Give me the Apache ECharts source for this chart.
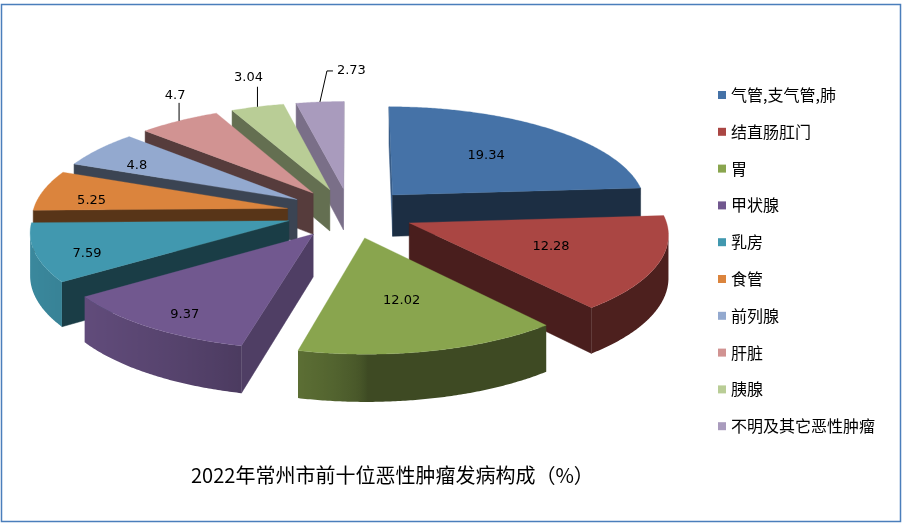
<!DOCTYPE html>
<html>
<head>
<meta charset="utf-8">
<script src="https://cdn.jsdelivr.net/npm/echarts@6/dist/echarts.min.js"></script>
<style>
html,body{margin:0;padding:0;background:#fff;}
#chart{width:903px;height:527px;}
</style>
</head>
<body>
<div id="chart"></div>
<script>
// ---- data ----
const categories = ['气管,支气管,肺','结直肠肛门','胃','甲状腺','乳房','食管','前列腺','肝脏','胰腺','不明及其它恶性肿瘤'];
const values = [19.34, 12.28, 12.02, 9.37, 7.59, 5.25, 4.8, 4.7, 3.04, 2.73];
const colors = ['#4572A7','#AA4643','#89A54E','#71588F','#4198AF','#DB843D','#93A9CF','#D19392','#B9CD96','#A99BBD'];
const titleText = '2022年常州市前十位恶性肿瘤发病构成（%）';
const outsideLabels = ['肝脏','胰腺','不明及其它恶性肿瘤'];

// ---- layout (3D exploded pie projection) ----
const L = {cx:350, cy:213, rx:255, ry:100, h:42, p:0.096, explode:0.25};
const leader = {
  '肝脏': {line:[[0,-18]], text:[-4,-25], align:'center'},
  '胰腺': {line:[[0,-20]], text:[-9,-29], align:'center'},
  '不明及其它恶性肿瘤': {line:[[7,-31],[13,-31]], text:[17,-31], align:'left'}
};

const total = values.reduce((a,b)=>a+b,0);
const starts = [];
(function(){ let acc=0; values.forEach(v=>{starts.push(acc/total*360); acc+=v;}); })();
const D = 1/L.p;
const rad = d => d*Math.PI/180;
function proj(P, hf){
  const s = 1/(1 - L.p*P[1]);
  return [L.cx + L.rx*P[0]*s, L.cy + (L.ry*P[1] + hf*L.h)*s];
}
function shade(hex, f){
  const n = parseInt(hex.slice(1),16);
  const r = Math.round(((n>>16)&255)*f), g = Math.round(((n>>8)&255)*f), b = Math.round((n&255)*f);
  return 'rgb('+r+','+g+','+b+')';
}
function apexOf(i){
  const mid = starts[i] + values[i]/total*180;
  return [L.explode*Math.sin(rad(mid)), -L.explode*Math.cos(rad(mid))];
}
// draw order for walls: back slices first
const order = values.map((v,i)=>i).sort((a,b)=>apexOf(a)[1]-apexOf(b)[1]);
const wallZ = {}; order.forEach((idx,r)=>{ wallZ[idx] = 10 + r; });

function renderSlice(params, api){
  const i = params.seriesIndex;
  const val = api.value(0);
  const a0 = starts[i], a1 = a0 + val/total*360, mid = (a0+a1)/2;
  const color = colors[i];
  const A = apexOf(i);
  const rim = t => [A[0] + Math.sin(rad(t)), A[1] - Math.cos(rad(t))];
  const children = [];
  // radial faces
  const faces = [
    {t:a0, n:[-Math.cos(rad(a0)), -Math.sin(rad(a0))]},
    {t:a1, n:[ Math.cos(rad(a1)),  Math.sin(rad(a1))]}
  ];
  faces.forEach(fc=>{
    const dot = fc.n[0]*(0 - A[0]) + fc.n[1]*(D - A[1]);
    if (dot > 0){
      const R = rim(fc.t);
      const f = 0.4 + 0.4*Math.pow(Math.abs(fc.n[0]), 10);
      children.push({type:'polygon', z2: wallZ[i],
        shape:{points:[proj(A,0), proj(R,0), proj(R,1), proj(A,1)]},
        style:{fill: shade(color, f), stroke: shade(color, f), lineWidth:0.5}});
    }
  });
  // outer curved wall
  const ts = [];
  const steps = Math.max(2, Math.ceil((a1-a0)/0.5));
  for (let k=0;k<=steps;k++) ts.push(a0 + (a1-a0)*k/steps);
  const vis = ts.map(t=>{
    const n = [Math.sin(rad(t)), -Math.cos(rad(t))];
    const P = rim(t);
    return n[0]*(0-P[0]) + n[1]*(D-P[1]) > 0;
  });
  let runs = [], cur = [];
  ts.forEach((t,k)=>{ if (vis[k]) cur.push(t); else { if (cur.length>1) runs.push(cur); cur=[]; } });
  if (cur.length>1) runs.push(cur);
  runs.forEach(run=>{
    const top = run.map(t=>proj(rim(t),0));
    const bot = run.map(t=>proj(rim(t),1)).reverse();
    const xs = top.map(p=>p[0]);
    const xmin = Math.min.apply(null,xs), xmax = Math.max.apply(null,xs);
    const fOf = t => 0.45 + 0.45*Math.sqrt(Math.max(0, -Math.sin(rad(t))));
    let fill;
    if (xmax - xmin < 1) fill = shade(color, fOf(run[0]));
    else {
      const stops = run.map((t,k)=>({offset:(top[k][0]-xmin)/(xmax-xmin), color:shade(color,fOf(t))}))
        .sort((a,b)=>a.offset-b.offset);
      fill = new echarts.graphic.LinearGradient(xmin, 0, xmax, 0, stops, true);
    }
    children.push({type:'polygon', z2: wallZ[i], shape:{points: top.concat(bot)}, style:{fill: fill}});
  });
  // top face
  const topPts = [proj(A,0)].concat(ts.map(t=>proj(rim(t),0)));
  children.push({type:'polygon', z2:100, shape:{points:topPts}, style:{fill:color, stroke:color, lineWidth:0.3}});
  // label
  const name = categories[i];
  if (outsideLabels.indexOf(name) >= 0){
    const P = proj(rim(mid),0);
    const ld = leader[name];
    const pts = [P].concat(ld.line.map(o=>[P[0]+o[0], P[1]+o[1]]));
    children.push({type:'polyline', z2:200, shape:{points:pts}, style:{stroke:'#000', lineWidth:1, fill:null}});
    children.push({type:'text', z2:200, x:P[0]+ld.text[0], y:P[1]+ld.text[1],
      style:{text:String(val), fill:'#000', font:'13px "DejaVu Sans"', align:ld.align, verticalAlign:'middle'}});
  } else {
    const big = (a1 - a0) >= 50;
    const lr = big ? 0.58 : 0.8;
    const Q = [A[0] + lr*Math.sin(rad(mid)), A[1] - lr*Math.cos(rad(mid))];
    const P = proj(Q, big ? 0 : 0.16);
    children.push({type:'text', z2:200, x:P[0], y:P[1],
      style:{text:String(val), fill:'#000', font:'13px "DejaVu Sans"', align:'center', verticalAlign:'middle'}});
  }
  return {type:'group', children};
}

const chart = echarts.init(document.getElementById('chart'), null, {renderer:'canvas'});
chart.setOption({
  animation:false,
  backgroundColor:'#fff',
  color: colors,
  title:{
    text: titleText, left: 186, top: 460,
    textStyle:{fontSize:20, fontWeight:'normal', color:'#000', fontFamily:'"Noto Sans CJK SC", sans-serif'}
  },
  legend:{
    orient:'vertical', left:713, top:82, icon:'rect', itemWidth:8, itemHeight:8, itemGap:20.8,
    textStyle:{fontSize:16, lineHeight:16, color:'#000', fontFamily:'"Noto Sans CJK SC", sans-serif'},
    data: categories
  },
  graphic:[{type:'rect', shape:{x:1.5, y:4.5, width:899, height:517}, style:{fill:null, stroke:'#4a7ebb', lineWidth:1.5}, z:-1, silent:true}],
  series: categories.map((name,i)=>({
    type:'custom', name, coordinateSystem:'none', renderItem: renderSlice,
    itemStyle:{color: colors[i]}, data:[values[i]], silent:true
  }))
});
</script>
</body>
</html>
